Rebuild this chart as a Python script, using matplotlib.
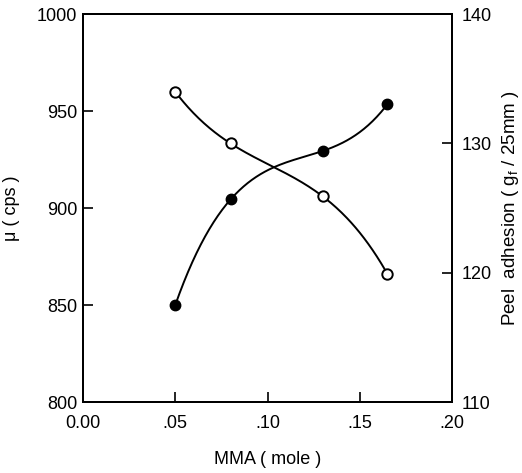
import matplotlib
matplotlib.use('Agg')

import numpy as np
import matplotlib.pyplot as plt

plt.rcParams['font.family'] = ['Liberation Sans', 'DejaVu Sans']

mma = [0.05, 0.08, 0.13, 0.165]
viscosity = [850, 904.5, 929.5, 953.6]     # filled circles, left axis (cps)
peel = [134.0, 130.0, 125.9, 119.9]        # open circles, right axis (gf/25mm)

x_ticks = [0.0, 0.05, 0.10, 0.15, 0.20]
x_ticklabels = ['0.00', '.05', '.10', '.15', '.20']
left_ticks = [800, 850, 900, 950, 1000]
right_ticks = [110, 120, 130, 140]


def smooth(x, y):
    # cubic through the measured points, only for drawing the curve
    c = np.polyfit(x, y, 3)
    xs = np.linspace(min(x), max(x), 200)
    return xs, np.polyval(c, xs)


fig = plt.figure(figsize=(5.22, 4.73), dpi=100)
ax = fig.add_axes([0.159, 0.150, 0.707, 0.820])
ax2 = ax.twinx()

xs, ys = smooth(mma, viscosity)
ax.plot(xs, ys, color='black', lw=1.4)
ax.plot(mma, viscosity, 'o', color='black', ms=7.5, zorder=5)

xs, ys = smooth(mma, peel)
ax2.plot(xs, ys, color='black', lw=1.4)
ax2.plot(mma, peel, 'o', mfc='white', mec='black', mew=1.4, ms=7.5, zorder=5)

ax.set_xlim(0, 0.2)
ax.set_ylim(800, 1000)
ax2.set_ylim(110, 140)

ax.set_xticks(x_ticks)
ax.set_xticklabels(x_ticklabels)
ax.set_yticks(left_ticks)
ax2.set_yticks(right_ticks)

for a in (ax, ax2):
    a.tick_params(direction='in', length=7, width=1.2, labelsize=13, pad=4)
    for s in a.spines.values():
        s.set_linewidth(1.4)
ax.tick_params(axis='x', pad=9)
ax2.tick_params(axis='y', pad=7)

ax.set_xlabel('MMA ( mole )', fontsize=13, labelpad=14)
ax.set_ylabel('\u03bc ( cps )', fontsize=13, labelpad=12)
ax2.set_ylabel('Peel  adhesion ( g$_\\mathregular{f}$ / 25mm )', fontsize=13.5,
               labelpad=6)

plt.savefig('out.png', dpi=100)
plt.close()
